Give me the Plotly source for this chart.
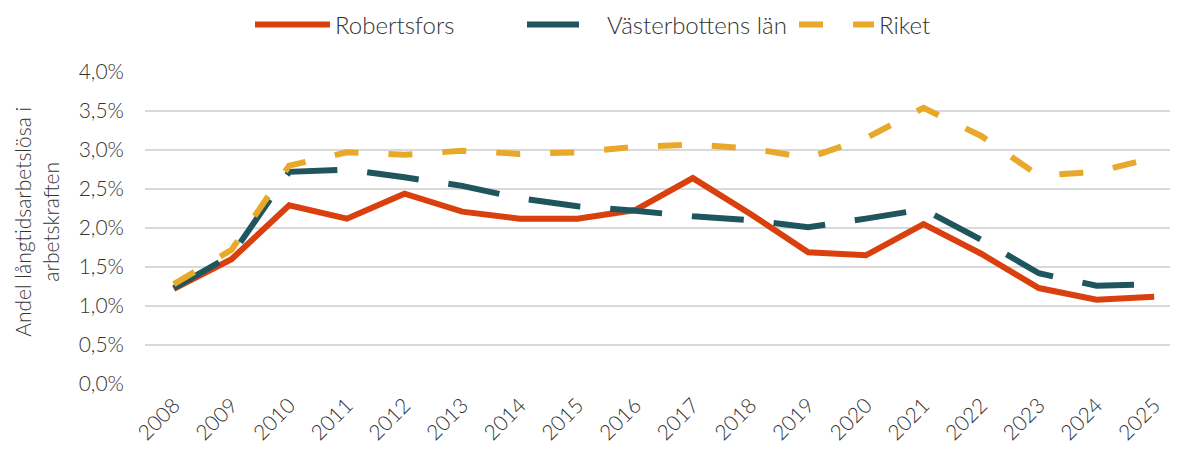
import plotly.graph_objects as go

years = [str(y) for y in range(2008, 2026)]
robertsfors = [1.22, 1.60, 2.29, 2.12, 2.44, 2.21, 2.12, 2.12, 2.23, 2.64, 2.18, 1.69, 1.65, 2.05, 1.67, 1.23, 1.08, 1.12]
vasterbotten = [1.23, 1.65, 2.72, 2.75, 2.65, 2.54, 2.38, 2.28, 2.22, 2.15, 2.10, 2.01, 2.12, 2.24, 1.85, 1.42, 1.26, 1.28]
riket = [1.28, 1.72, 2.80, 2.97, 2.94, 2.99, 2.95, 2.97, 3.04, 3.07, 3.02, 2.90, 3.15, 3.54, 3.18, 2.67, 2.72, 2.90]

series = [
    ("Robertsfors", robertsfors, "#D9400E", "solid"),
    ("Västerbottens län", vasterbotten, "#1F555C", "52px,30px"),
    ("Riket", riket, "#E8A82A", "24px,30px"),
]

fig = go.Figure()
for name, vals, color, dash in series:
    fig.add_trace(go.Scatter(
        x=years, y=[v / 100 for v in vals], name=name, mode="lines",
        line=dict(color=color, width=6, dash=dash),
    ))

txt = "#333333"
fig.update_layout(
    width=1178, height=450,
    margin=dict(l=137, r=3, t=64, b=74, autoexpand=False),
    plot_bgcolor="white", paper_bgcolor="white",
    separators=", ",
    font=dict(family="Lato", color=txt, size=21, weight=300),
    showlegend=True,
    legend=dict(orientation="h", xref="container", x=242 / 1178, xanchor="left",
                y=1.0, yanchor="middle", entrywidth=182,
                font=dict(family="Lato", size=24, color=txt, weight=300),
                itemwidth=75, traceorder="normal", bgcolor="rgba(0,0,0,0)"),
    xaxis=dict(type="category", range=[-0.5, 17.5], tickangle=-45, showgrid=False,
               showline=False, ticks="", tickfont=dict(size=21, color=txt),
               ticklabelstandoff=4),
    yaxis=dict(range=[0, 0.04], dtick=0.005, tickformat=".1%", showgrid=True,
               gridcolor="#d9d9d9", gridwidth=2, zeroline=False, ticks="",
               tickfont=dict(size=21, color=txt), ticklabelstandoff=20),
    annotations=[dict(text="Andel långtidsarbetslösa i<br>arbetskraften",
                      xref="paper", yref="paper", x=(28 - 137) / 1038, y=0.52,
                      xanchor="center", yanchor="middle", textangle=-90,
                      showarrow=False, font=dict(size=21, color=txt))],
)
fig.update_layout(legend_y=1.0 + (71 - 24) / 312)
fig.write_html("out.html")
